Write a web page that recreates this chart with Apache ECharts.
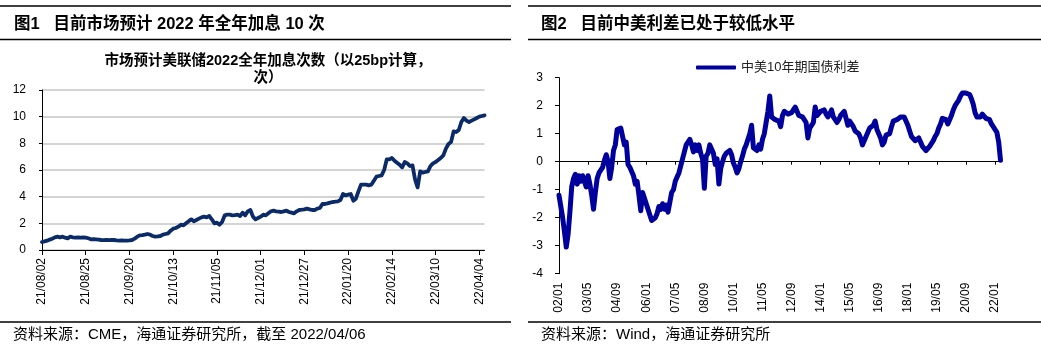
<!DOCTYPE html>
<html><head><meta charset="utf-8">
<script src="https://cdn.jsdelivr.net/npm/echarts@6/dist/echarts.min.js"></script>
<style>html,body{margin:0;padding:0;background:#fff}#c{width:1041px;height:346px}</style>
</head><body><div id="c"></div>
<script>
// ---------- Left chart: market-implied Fed hikes in 2022 ----------
const leftDates = [
'21/08/02','21/08/03','21/08/04','21/08/05','21/08/06','21/08/09','21/08/10','21/08/11','21/08/12','21/08/13','21/08/16','21/08/17','21/08/18','21/08/19','21/08/20','21/08/23','21/08/24','21/08/25','21/08/26','21/08/27','21/08/30','21/08/31',
'21/09/01','21/09/02','21/09/03','21/09/07','21/09/08','21/09/09','21/09/10','21/09/13','21/09/14','21/09/15','21/09/16','21/09/17','21/09/20','21/09/21','21/09/22','21/09/23','21/09/24','21/09/27','21/09/28','21/09/29','21/09/30',
'21/10/01','21/10/04','21/10/05','21/10/06','21/10/07','21/10/08','21/10/11','21/10/12','21/10/13','21/10/14','21/10/15','21/10/18','21/10/19','21/10/20','21/10/21','21/10/22','21/10/25','21/10/26','21/10/27','21/10/28','21/10/29',
'21/11/01','21/11/02','21/11/03','21/11/04','21/11/05','21/11/08','21/11/09','21/11/10','21/11/11','21/11/12','21/11/15','21/11/16','21/11/17','21/11/18','21/11/19','21/11/22','21/11/23','21/11/24','21/11/26','21/11/29','21/11/30',
'21/12/01','21/12/02','21/12/03','21/12/06','21/12/07','21/12/08','21/12/09','21/12/10','21/12/13','21/12/14','21/12/15','21/12/16','21/12/17','21/12/20','21/12/21','21/12/22','21/12/23','21/12/27','21/12/28','21/12/29','21/12/30','21/12/31',
'22/01/03','22/01/04','22/01/05','22/01/06','22/01/07','22/01/10','22/01/11','22/01/12','22/01/13','22/01/14','22/01/18','22/01/19','22/01/20','22/01/21','22/01/24','22/01/25','22/01/26','22/01/27','22/01/28','22/01/31',
'22/02/01','22/02/02','22/02/03','22/02/04','22/02/07','22/02/08','22/02/09','22/02/10','22/02/11','22/02/14','22/02/15','22/02/16','22/02/17','22/02/18','22/02/22','22/02/23','22/02/24','22/02/25','22/02/28',
'22/03/01','22/03/02','22/03/03','22/03/04','22/03/07','22/03/08','22/03/09','22/03/10','22/03/11','22/03/14','22/03/15','22/03/16','22/03/17','22/03/18','22/03/21','22/03/22','22/03/23','22/03/24','22/03/25','22/03/28','22/03/29','22/03/30','22/03/31',
'22/04/01','22/04/04','22/04/05','22/04/06'
];
const leftHikes = [
0.6,0.65,0.7,0.78,0.85,0.95,1.0,0.95,1.0,0.92,0.88,1.0,0.95,0.93,0.95,0.93,0.95,0.93,0.88,0.8,0.82,0.8,
0.78,0.75,0.74,0.76,0.74,0.75,0.75,0.72,0.7,0.72,0.7,0.7,0.72,0.75,0.85,1.0,1.1,1.12,1.15,1.2,1.15,
1.05,1.0,1.02,1.05,1.15,1.2,1.25,1.45,1.6,1.65,1.75,1.9,1.85,2.0,2.15,2.3,2.15,2.25,2.35,2.45,2.5,
2.45,2.55,2.3,2.0,2.05,1.9,2.1,2.6,2.65,2.65,2.6,2.62,2.65,2.55,2.8,2.6,2.9,3.0,2.5,2.3,2.4,
2.5,2.65,2.6,2.75,2.9,2.95,2.9,2.88,2.85,2.9,2.95,2.85,2.8,2.75,2.9,3.0,3.02,3.05,3.1,3.05,3.0,3.0,
3.1,3.15,3.45,3.45,3.5,3.55,3.6,3.62,3.65,3.75,4.2,4.1,4.15,4.2,3.7,3.85,4.4,4.9,4.9,4.9,
4.85,4.9,5.2,5.5,5.55,5.6,6.0,6.8,6.8,6.9,6.7,6.55,6.4,6.2,6.6,6.5,6.3,6.35,5.3,
4.7,5.9,5.8,5.85,5.9,6.3,6.5,6.6,6.75,6.9,7.1,7.6,7.95,8.1,8.9,8.85,9.0,9.6,9.9,9.7,9.6,9.7,9.8,
9.9,10.0,10.05,10.1
];

// ---------- Right chart: China-US 10Y government bond yield spread ----------
const rightMonths = [
'02/01','02/02','02/03','02/04','02/05','02/06','02/07','02/08','02/09','02/10','02/11','02/12',
'03/01','03/02','03/03','03/04','03/05','03/06','03/07','03/08','03/09','03/10','03/11','03/12',
'04/01','04/02','04/03','04/04','04/05','04/06','04/07','04/08','04/09','04/10','04/11','04/12',
'05/01','05/02','05/03','05/04','05/05','05/06','05/07','05/08','05/09','05/10','05/11','05/12',
'06/01','06/02','06/03','06/04','06/05','06/06','06/07','06/08','06/09','06/10','06/11','06/12',
'07/01','07/02','07/03','07/04','07/05','07/06','07/07','07/08','07/09','07/10','07/11','07/12',
'08/01','08/02','08/03','08/04','08/05','08/06','08/07','08/08','08/09','08/10','08/11','08/12',
'09/01','09/02','09/03','09/04','09/05','09/06','09/07','09/08','09/09','09/10','09/11','09/12',
'10/01','10/02','10/03','10/04','10/05','10/06','10/07','10/08','10/09','10/10','10/11','10/12',
'11/01','11/02','11/03','11/04','11/05','11/06','11/07','11/08','11/09','11/10','11/11','11/12',
'12/01','12/02','12/03','12/04','12/05','12/06','12/07','12/08','12/09','12/10','12/11','12/12',
'13/01','13/02','13/03','13/04','13/05','13/06','13/07','13/08','13/09','13/10','13/11','13/12',
'14/01','14/02','14/03','14/04','14/05','14/06','14/07','14/08','14/09','14/10','14/11','14/12',
'15/01','15/02','15/03','15/04','15/05','15/06','15/07','15/08','15/09','15/10','15/11','15/12',
'16/01','16/02','16/03','16/04','16/05','16/06','16/07','16/08','16/09','16/10','16/11','16/12',
'17/01','17/02','17/03','17/04','17/05','17/06','17/07','17/08','17/09','17/10','17/11','17/12',
'18/01','18/02','18/03','18/04','18/05','18/06','18/07','18/08','18/09','18/10','18/11','18/12',
'19/01','19/02','19/03','19/04','19/05','19/06','19/07','19/08','19/09','19/10','19/11','19/12',
'20/01','20/02','20/03','20/04','20/05','20/06','20/07','20/08','20/09','20/10','20/11','20/12',
'21/01','21/02','21/03','21/04','21/05','21/06','21/07','21/08','21/09','21/10','21/11','21/12',
'22/01','22/02','22/03','22/04'
];
const spread = [
-1.2,-1.6,-2.0,-2.5,-3.05,-2.6,-1.8,-0.9,-0.6,-0.45,-0.8,-0.5,
-0.7,-0.5,-0.55,-0.9,-0.5,-0.8,-1.2,-1.7,-1.1,-0.6,-0.4,-0.3,
-0.2,0.05,0.25,0.0,-0.6,-0.2,0.4,0.6,1.15,1.1,1.2,0.9,
0.6,0.7,-0.1,-0.2,-0.25,-0.5,-0.8,-0.7,-1.2,-1.75,-1.1,-1.3,
-1.5,-1.7,-1.9,-2.1,-2.1,-2.0,-1.85,-1.6,-1.7,-1.5,-1.7,-1.55,
-1.8,-1.45,-1.1,-1.0,-0.7,-0.55,-0.4,-0.15,0.1,0.35,0.6,0.6,
0.8,0.6,0.35,0.6,0.4,0.6,0.3,0.1,-0.95,0.2,0.3,0.6,
0.55,0.3,-0.1,0.1,-0.8,-0.25,0.0,0.2,0.3,0.35,0.4,0.25,
-0.05,-0.2,-0.4,-0.25,0.0,0.2,0.45,0.6,0.8,1.0,1.3,0.5,
0.55,0.4,0.6,0.45,0.8,1.0,1.4,1.8,2.35,1.6,1.55,1.5,
1.5,1.45,1.25,1.65,1.8,1.8,1.7,1.75,1.75,1.8,1.95,1.8,
1.65,1.65,1.6,1.5,1.4,0.85,1.2,1.3,1.4,1.95,1.65,1.7,
1.8,1.85,1.85,1.7,1.6,1.7,1.85,1.6,1.5,1.4,1.5,1.65,
1.7,1.8,1.55,1.3,1.45,1.35,1.25,1.1,1.05,1.0,0.85,0.6,
0.55,0.9,1.05,1.2,1.15,1.3,1.45,1.15,1.0,0.85,0.6,0.7,
0.95,1.0,1.0,1.25,1.45,1.45,1.5,1.55,1.6,1.65,1.6,1.55,
1.3,1.1,0.9,0.85,0.75,0.75,0.85,0.7,0.55,0.5,0.4,0.35,
0.55,0.6,0.75,0.9,1.0,1.2,1.35,1.55,1.5,1.5,1.35,1.3,
1.65,1.85,2.0,2.1,2.2,2.35,2.45,2.5,2.45,2.45,2.4,2.25,
2.05,1.75,1.6,1.55,1.6,1.7,1.65,1.55,1.5,1.5,1.35,1.25,
1.3,1.05,0.7,0.05
];

const FONT = '"Liberation Sans", Arial, "Noto Sans CJK SC", sans-serif';
const chart = echarts.init(document.getElementById('c'), null, {renderer: 'canvas'});

const lineStyle = {stroke: '#000', lineWidth: 1.3};
chart.setOption({
  animation: false,
  backgroundColor: '#fff',
  textStyle: {fontFamily: FONT},
  grid: [
    {left: 42, top: 90, width: 442.5, height: 160},
    {left: 559, top: 77.7, width: 441.5, height: 196}
  ],
  legend: {
    data: ['中美10年期国债利差'],
    left: 691, top: 56,
    icon: 'roundRect',
    itemWidth: 40, itemHeight: 4, itemGap: 5,
    textStyle: {fontSize: 13, color: '#222', fontFamily: FONT}
  },
  xAxis: [
    {
      type: 'category', gridIndex: 0, data: leftDates, boundaryGap: false,
      axisLine: {lineStyle: {color: '#000', width: 1}},
      axisTick: {interval: 16, length: 5, lineStyle: {color: '#000'}},
      axisLabel: {interval: 16, rotate: 90, margin: 8, fontSize: 12, color: '#000', fontFamily: FONT},
      splitLine: {show: false}
    },
    {
      type: 'category', gridIndex: 1, data: rightMonths, boundaryGap: false, position: 'bottom',
      axisLine: {show: false, onZero: false},
      axisTick: {show: false},
      axisLabel: {interval: 15, rotate: 90, margin: 9, fontSize: 12, color: '#000', fontFamily: FONT},
      splitLine: {show: false}
    },
    {
      type: 'category', gridIndex: 1, data: rightMonths, boundaryGap: false, position: 'bottom',
      axisLine: {show: true, onZero: true, lineStyle: {color: '#000', width: 1}},
      axisTick: {interval: 15, length: 3, lineStyle: {color: '#000'}},
      axisLabel: {show: false},
      splitLine: {show: false}
    }
  ],
  yAxis: [
    {
      type: 'value', gridIndex: 0, min: 0, max: 12, interval: 2,
      axisLine: {show: true, lineStyle: {color: '#000', width: 1}},
      axisTick: {show: true, length: 3, lineStyle: {color: '#000'}},
      axisLabel: {margin: 16, fontSize: 12, color: '#000', fontFamily: FONT},
      splitLine: {show: true, lineStyle: {color: '#C6C6C6', width: 1.6}}
    },
    {
      type: 'value', gridIndex: 1, min: -4, max: 3, interval: 1,
      axisLine: {show: true, lineStyle: {color: '#000', width: 1}},
      axisTick: {show: true, length: 4, lineStyle: {color: '#000'}},
      axisLabel: {margin: 16, fontSize: 12, color: '#000', fontFamily: FONT},
      splitLine: {show: false}
    }
  ],
  series: [
    {
      name: '市场预计加息次数', type: 'line', xAxisIndex: 0, yAxisIndex: 0,
      data: leftHikes, showSymbol: false, symbol: 'none',
      lineStyle: {color: '#0A2A68', width: 3.8, join: 'round', cap: 'round'},
      itemStyle: {color: '#0A2A68'}
    },
    {
      name: '中美10年期国债利差', type: 'line', xAxisIndex: 1, yAxisIndex: 1,
      data: spread, showSymbol: false, symbol: 'none',
      lineStyle: {color: '#00009C', width: 5, join: 'round', cap: 'round'},
      itemStyle: {color: '#00009C'}
    }
  ],
  graphic: [
    {type: 'line', shape: {x1: 0, y1: 6, x2: 511, y2: 6}, style: lineStyle, silent: true},
    {type: 'line', shape: {x1: 0, y1: 39.5, x2: 511, y2: 39.5}, style: lineStyle, silent: true},
    {type: 'line', shape: {x1: 528, y1: 6, x2: 1041, y2: 6}, style: lineStyle, silent: true},
    {type: 'line', shape: {x1: 528, y1: 39.5, x2: 1041, y2: 39.5}, style: lineStyle, silent: true},
    {type: 'line', shape: {x1: 0, y1: 322, x2: 511, y2: 322}, style: lineStyle, silent: true},
    {type: 'line', shape: {x1: 528, y1: 322, x2: 1041, y2: 322}, style: lineStyle, silent: true},
    {type: 'text', x: 14, y: 24, silent: true,
      style: {text: '图1   目前市场预计 2022 年全年加息 10 次', fill: '#000', font: 'bold 16.5px ' + FONT, verticalAlign: 'middle'}},
    {type: 'text', x: 541, y: 24, silent: true,
      style: {text: '图2   目前中美利差已处于较低水平', fill: '#000', font: 'bold 16.5px ' + FONT, verticalAlign: 'middle'}},
    {type: 'text', x: 268, y: 52, silent: true,
      style: {text: '市场预计美联储2022全年加息次数（以25bp计算，\n次）', fill: '#000', font: 'bold 14.5px ' + FONT, align: 'center', verticalAlign: 'top', lineHeight: 17}},
    {type: 'text', x: 13, y: 335, silent: true,
      style: {text: '资料来源：CME，海通证券研究所，截至 2022/04/06', fill: '#000', font: '15px ' + FONT, verticalAlign: 'middle'}},
    {type: 'text', x: 541, y: 335, silent: true,
      style: {text: '资料来源：Wind，海通证券研究所', fill: '#000', font: '15px ' + FONT, verticalAlign: 'middle'}}
  ]
});
</script>
</body></html>
